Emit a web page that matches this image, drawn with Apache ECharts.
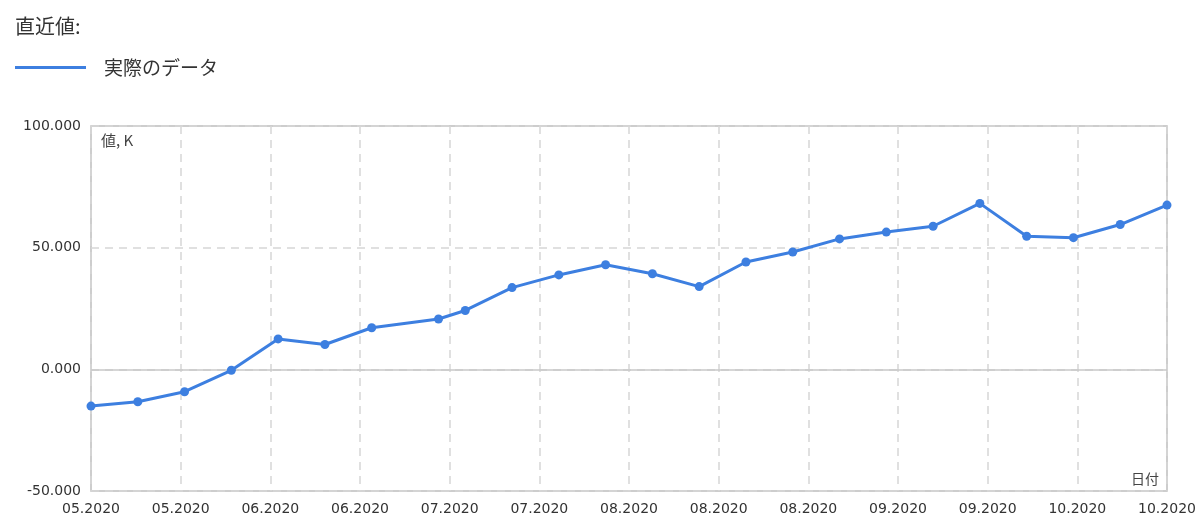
<!DOCTYPE html>
<html>
<head>
<meta charset="utf-8">
<script src="https://cdn.jsdelivr.net/npm/echarts@6/dist/echarts.min.js"></script>
<style>
html,body{margin:0;padding:0;background:#fff;}
#chart{width:1200px;height:530px;}
</style>
</head>
<body>
<div id="chart"></div>
<script>
// ---- data ----
const titleText = '直近値:';
const seriesName = '実際のデータ';
const yAxisName = '値, K';
const xAxisName = '日付';
const dates = [
  '2020-05-13','2020-05-20','2020-05-27','2020-06-03','2020-06-10','2020-06-17',
  '2020-06-24','2020-07-04','2020-07-08','2020-07-15','2020-07-22','2020-07-29',
  '2020-08-05','2020-08-12','2020-08-19','2020-08-26','2020-09-02','2020-09-09',
  '2020-09-16','2020-09-23','2020-09-30','2020-10-07','2020-10-14','2020-10-21'
];
const values = [
  -15.1, -13.3, -9.2, -0.4, 12.5, 10.2,
  17.1, 20.7, 24.2, 33.6, 38.8, 43.0,
  39.3, 34.0, 44.1, 48.2, 53.6, 56.4,
  58.8, 68.2, 54.7, 54.1, 59.5, 67.5
];
const axisStartDate = '2020-05-13';
const axisEndDate = '2020-10-21';
const xTickCount = 12;
const yMin = -50, yMax = 100, yStep = 50;

// ---- helpers ----
const HOUR = 3600000;
function toUTC(s){ const p = s.split('-').map(Number); return Date.UTC(p[0], p[1]-1, p[2]); }
const t0 = toUTC(axisStartDate);
const xMax = (toUTC(axisEndDate) - t0) / HOUR;
const xInterval = xMax / xTickCount;
const seriesData = dates.map((d, i) => [(toUTC(d) - t0) / HOUR, values[i]]);
function fmtDate(v){
  const d = new Date(t0 + v * HOUR);
  const m = d.getUTCMonth() + 1;
  return (m < 10 ? '0' + m : '' + m) + '.' + d.getUTCFullYear();
}

const lineColor = '#3d7fe0';
const chart = echarts.init(document.getElementById('chart'));
chart.setOption({
  animation: false,
  backgroundColor: '#ffffff',
  title: {
    text: titleText,
    left: 10, top: 11,
    textStyle: { fontFamily: 'Noto Sans CJK JP', fontSize: 20, fontWeight: 'normal', color: '#333' }
  },
  legend: {
    left: 10, top: 53,
    icon: 'rect',
    itemWidth: 71, itemHeight: 3,
    data: [seriesName],
    textStyle: { fontFamily: 'Noto Sans CJK JP', fontSize: 19, color: '#333', padding: [0,0,0,13] }
  },
  grid: {
    left: 91, right: 33, top: 126, bottom: 39,
    show: true, borderColor: '#bdbdbd', borderWidth: 1.5, backgroundColor: 'transparent'
  },
  xAxis: {
    type: 'value',
    min: 0, max: xMax, interval: xInterval,
    name: xAxisName,
    nameLocation: 'end',
    nameGap: -8,
    nameTextStyle: { fontFamily: 'Noto Sans CJK JP', fontSize: 14, color: '#444', align: 'right', verticalAlign: 'bottom', padding: [0,0,5,0] },
    axisLine: { show: false, onZero: false },
    axisTick: { show: false },
    axisLabel: {
      formatter: fmtDate, margin: 11, showMinLabel: true, showMaxLabel: true,
      fontFamily: 'DejaVu Sans', fontSize: 14, color: '#333'
    },
    splitLine: { show: true, lineStyle: { color: '#d6d6d6', width: 1.5, type: [8, 6] } }
  },
  yAxis: {
    type: 'value',
    min: yMin, max: yMax, interval: yStep,
    name: yAxisName,
    nameLocation: 'end',
    nameGap: -22,
    nameTextStyle: { fontFamily: 'Noto Sans CJK JP', fontSize: 15, color: '#444', align: 'left', padding: [0,0,0,10] },
    axisLine: { show: false, onZero: false },
    axisTick: { show: false },
    axisLabel: {
      formatter: v => v.toFixed(3), margin: 10,
      fontFamily: 'DejaVu Sans', fontSize: 14, color: '#333'
    },
    splitLine: { show: true, lineStyle: { color: '#d6d6d6', width: 1.5, type: [8, 6] } }
  },
  series: [{
    name: seriesName,
    type: 'line',
    data: seriesData,
    symbol: 'circle',
    symbolSize: 9,
    showSymbol: true,
    lineStyle: { color: lineColor, width: 3 },
    itemStyle: { color: lineColor },
    markLine: {
      silent: true,
      symbol: 'none',
      label: { show: false },
      lineStyle: { color: '#c8c8c8', width: 1.5, type: 'solid' },
      data: [{ yAxis: 0 }],
      z: 1
    },
    z: 3
  }]
});
</script>
</body>
</html>
